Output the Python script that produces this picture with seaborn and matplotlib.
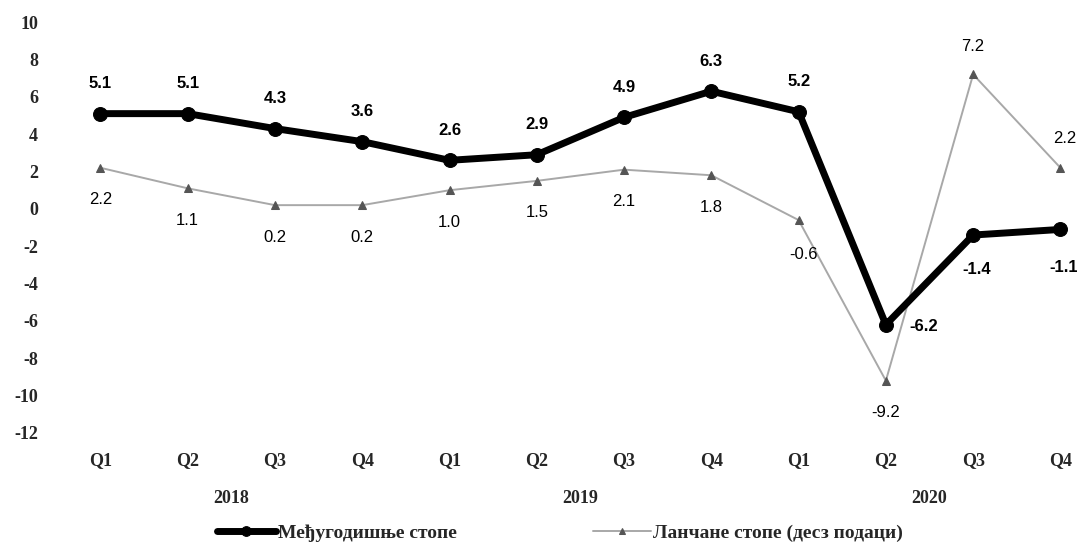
import numpy as np
import matplotlib
matplotlib.use("Agg")
import matplotlib.pyplot as plt
import seaborn as sns
import pandas as pd

quarters = ["Q1", "Q2", "Q3", "Q4"] * 3
years = ["2018", "2019", "2020"]
yoy = [5.1, 5.1, 4.3, 3.6, 2.6, 2.9, 4.9, 6.3, 5.2, -6.2, -1.4, -1.1]
qoq = [2.2, 1.1, 0.2, 0.2, 1.0, 1.5, 2.1, 1.8, -0.6, -9.2, 7.2, 2.2]
yoy_name = "Међугодишње стопе"
qoq_name = "Ланчане стопе (десз подаци)"

# label offsets in pixels (dx, dy)
yoy_off = [(0, 30)] * 9 + [(38, -2), (4, -34), (3, -38)]
qoq_off = [(0, -32)] * 10 + [(0, 28), (4, 29)]
qoq_off[8] = (5, -34)

sns.set_theme(style="white")
serif = ["Liberation Serif", "DejaVu Serif"]

df = pd.DataFrame({"x": np.arange(len(yoy)), yoy_name: yoy, qoq_name: qoq})

fig = plt.figure(figsize=(10.77, 5.53), dpi=100)
ax = fig.add_axes([0.056, 0.217, 0.944, 0.743])

sns.lineplot(data=df, x="x", y=qoq_name, ax=ax, color="#a8a8a8", lw=1.4,
             marker="^", ms=6, mfc="#555555", mec="#555555", label=qoq_name, zorder=2)
sns.lineplot(data=df, x="x", y=yoy_name, ax=ax, color="black", lw=5,
             marker="o", ms=10, mfc="black", mec="black", label=yoy_name, zorder=3)

for i, v in enumerate(yoy):
    ax.annotate(f"{v:.1f}", (i, v), xytext=yoy_off[i], textcoords="offset pixels",
                ha="center", va="center", fontsize=12, fontweight="bold",
                family="Liberation Sans", color="black")
for i, v in enumerate(qoq):
    ax.annotate(f"{v:.1f}", (i, v), xytext=qoq_off[i], textcoords="offset pixels",
                ha="center", va="center", fontsize=12,
                family="Liberation Sans", color="black")

ax.set_xlim(-0.46, 11.19)
ax.set_ylim(-12, 10)
ax.set_yticks(np.arange(-12, 11, 2))
ax.set_yticklabels([str(t) for t in range(-12, 11, 2)], family=serif,
                   fontweight="bold", fontsize=13)
ax.set_xticks(df["x"])
ax.set_xticklabels(quarters, family=serif, fontweight="bold", fontsize=13)
ax.tick_params(length=0, pad=14)
ax.tick_params(axis="y", pad=16)
ax.set_xlabel(""); ax.set_ylabel("")
sns.despine(ax=ax, left=True, bottom=True)

for k, yr in enumerate(years):
    ax.text(1.5 + 4 * k, -0.16, yr, transform=ax.get_xaxis_transform(),
            ha="center", va="center", family=serif, fontweight="bold", fontsize=13)

ax.get_legend().remove()
h, l = ax.get_legend_handles_labels()
fig.legend(h[::-1], l[::-1], loc="lower center", bbox_to_anchor=(0.52, -0.012), ncol=2,
           frameon=False, prop={"family": serif, "weight": "bold", "size": 14},
           handlelength=3.0, columnspacing=7, handletextpad=0.1, markerscale=0.7)

fig.savefig("out.png", dpi=100)
plt.close(fig)
